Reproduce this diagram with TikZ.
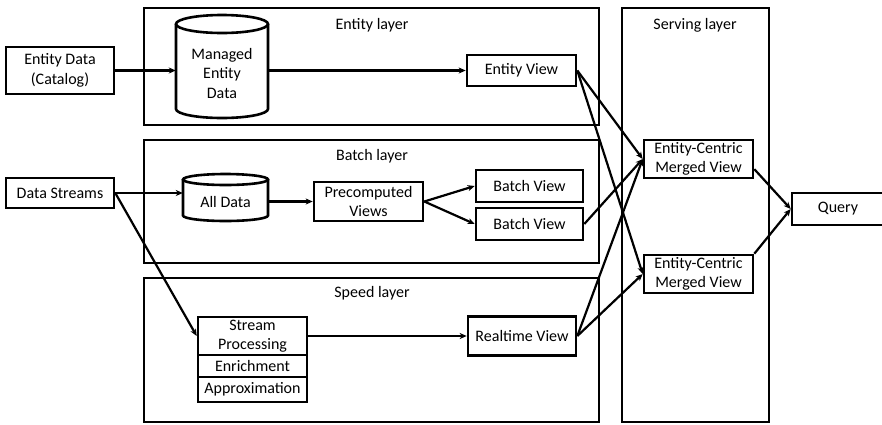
\documentclass[tikz,border=0pt]{standalone}
\usepackage{fontspec}
\setmainfont{Carlito}
\usetikzlibrary{arrows.meta,calc}
\tikzset{
  box/.style={draw, line width=2.6pt, align=center, inner sep=1pt, font=\fontsize{16}{19.5}\selectfont},
  layer/.style={draw, line width=2.6pt},
  lbl/.style={font=\fontsize{16}{19.5}\selectfont, inner sep=0pt},
  cyl/.style={line width=2.6pt},
  arr/.style={line width=2.2pt, -{Stealth[length=7pt,width=6pt,inset=2pt]}},
}
\begin{document}
\begin{tikzpicture}[x=1pt,y=1pt]
\useasboundingbox (0,0) rectangle (882,-424);
% layers
\draw[layer] (144,-8) rectangle (599,-125);
\node[lbl] (lent) at (372,-25) {Entity layer};
\draw[layer] (144,-140) rectangle (599,-263);
\node[lbl] (lbat) at (372,-156) {Batch layer};
\draw[layer] (144,-278) rectangle (599,-422);
\node[lbl] (lspd) at (372,-293) {Speed layer};
\draw[layer] (622,-8) rectangle (769,-422);
\node[lbl] (lsrv) at (695,-25) {Serving layer};
% cylinders
\draw[cyl] (222,-24) ellipse[x radius=46pt, y radius=9pt];
\draw[cyl] (176,-24) -- (176,-109) arc[start angle=180, end angle=360, x radius=46pt, y radius=9pt] -- (268,-24);
\node[lbl, align=center, minimum width=92pt] (managed) at (222,-73) {Managed\\Entity\\Data};
\draw[cyl] (225.5,-179.5) ellipse[x radius=42.5pt, y radius=5.5pt];
\draw[cyl] (183,-179.5) -- (183,-215.5) arc[start angle=180, end angle=360, x radius=42.5pt, y radius=5.5pt] -- (268,-179.5);
\node[lbl, minimum width=85pt] (alldata) at (225.5,-202) {All Data};
% boxes
\node[box, minimum width=108pt, minimum height=47pt] (entdata) at (60,-70.5) {Entity Data\\(Catalog)};
\node[box, minimum width=108pt, minimum height=30pt] (ds) at (60,-193) {Data Streams};
\node[box, minimum width=109pt, minimum height=31pt] (ev) at (521.5,-70.5) {Entity View};
\node[box, minimum width=109pt, minimum height=39pt] (pre) at (368.5,-201.5) {Precomputed\\Views};
\node[box, minimum width=107pt, minimum height=32pt] (bv1) at (529.5,-186) {Batch View};
\node[box, minimum width=107pt, minimum height=32pt] (bv2) at (529.5,-224) {Batch View};
\node[box, minimum width=109pt, minimum height=38pt] (sp) at (252.5,-336) {Stream\\Processing};
\node[box, minimum width=109pt, minimum height=22pt] (enr) at (252.5,-366) {Enrichment};
\node[box, minimum width=109pt, minimum height=25pt] (apx) at (252.5,-389.5) {Approximation};
\node[box, minimum width=108pt, minimum height=39pt] (rt) at (522,-336) {Realtime View};
\node[box, minimum width=109pt, minimum height=38pt] (ec1) at (698.5,-159) {Entity-Centric\\Merged View};
\node[box, minimum width=109pt, minimum height=38pt] (ec2) at (698.5,-274) {Entity-Centric\\Merged View};
\node[box, minimum width=92pt, minimum height=32pt] (query) at (838,-209) {Query};
% connectors
\draw[arr] (entdata.east) -- (entdata.east -| managed.west);
\draw[arr] (managed.east |- ev.west) -- (ev.west);
\draw[arr] (ds.east) -- (ds.east -| alldata.west);
\draw[arr] (alldata.east |- pre.west) -- (pre.west);
\draw[arr] (pre.east) -- (bv1.west);
\draw[arr] (pre.east) -- (bv2.west);
\draw[arr] (ds.east) -- (sp.west);
\draw[arr] (sp.east) -- (sp.east -| rt.west);
\draw[arr] (ev.east) -- (ec1.west);
\draw[arr] (ev.east) -- (ec2.west);
\draw[arr] (bv2.east) -- (ec1.west);
\draw[arr] (rt.east) -- (ec1.west);
\draw[arr] (rt.east) -- (ec2.west);
\draw[arr] ($(ec1.east)!0.5!(ec1.south east)$) -- (query.west);
\draw[arr] (ec2.north east) -- (query.west);
\end{tikzpicture}
\end{document}
